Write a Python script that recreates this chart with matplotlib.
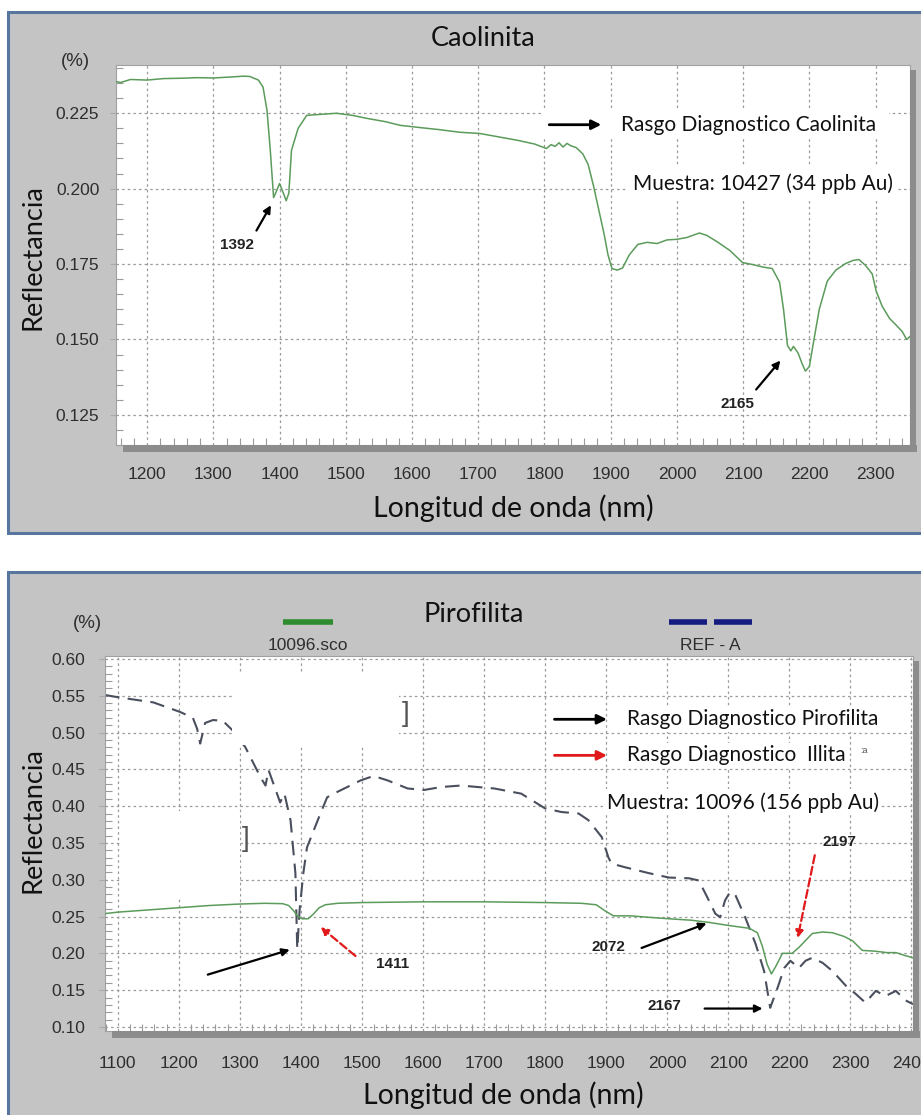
import matplotlib
matplotlib.use('Agg')
import matplotlib.pyplot as plt
from matplotlib.patches import Rectangle
from matplotlib.lines import Line2D
from matplotlib.ticker import MultipleLocator, FormatStrFormatter

# ---- data ----
caol_wl = [1153, 1160, 1175, 1200, 1225, 1250, 1275, 1300, 1325, 1345, 1355, 1368, 1375,
           1381, 1386, 1391, 1395, 1400, 1404, 1410, 1414, 1418, 1428, 1441, 1460, 1486,
           1510, 1532, 1560, 1582, 1610, 1640, 1672, 1702, 1730, 1760, 1785, 1803, 1810,
           1816, 1822, 1828, 1834, 1840, 1848, 1858, 1866, 1874, 1882, 1890, 1896, 1902,
           1910, 1918, 1928, 1941, 1955, 1970, 1985, 2000, 2015, 2034, 2045, 2060, 2080,
           2099, 2115, 2130, 2144, 2155, 2161, 2167, 2172, 2176, 2183, 2189, 2194, 2200,
           2207, 2215, 2227, 2240, 2255, 2266, 2275, 2285, 2295, 2301, 2310, 2321, 2330,
           2340, 2347, 2352]
caol_refl = [0.2355, 0.2352, 0.2362, 0.2360, 0.2365, 0.2366, 0.2368, 0.2367, 0.2370, 0.2373,
             0.2372, 0.2360, 0.2337, 0.2260, 0.2127, 0.1970, 0.1990, 0.2017, 0.1995, 0.1960,
             0.1985, 0.2127, 0.2200, 0.2243, 0.2246, 0.2250, 0.2243, 0.2233, 0.2222, 0.2210,
             0.2203, 0.2196, 0.2187, 0.2183, 0.2172, 0.2160, 0.2148, 0.2133, 0.2146, 0.2140,
             0.2152, 0.2138, 0.2150, 0.2142, 0.2136, 0.2115, 0.2080, 0.2010, 0.1930, 0.1850,
             0.1780, 0.1735, 0.1730, 0.1737, 0.1780, 0.1815, 0.1822, 0.1818, 0.1830, 0.1832,
             0.1838, 0.1853, 0.1845, 0.1825, 0.1795, 0.1755, 0.1748, 0.1740, 0.1735, 0.1690,
             0.1600, 0.1480, 0.1462, 0.1477, 0.1455, 0.1420, 0.1395, 0.1410, 0.1500, 0.1600,
             0.1693, 0.1730, 0.1752, 0.1762, 0.1765, 0.1745, 0.1717, 0.1660, 0.1610, 0.1570,
             0.1550, 0.1527, 0.1500, 0.1510]

piro_wl = [1079, 1100, 1150, 1200, 1250, 1300, 1340, 1370, 1380, 1388, 1395, 1402, 1412,
           1420, 1430, 1440, 1460, 1500, 1600, 1700, 1800, 1860, 1884, 1898, 1912, 1940,
           1970, 2003, 2040, 2069, 2100, 2135, 2148, 2156, 2164, 2171, 2178, 2189, 2205,
           2216, 2238, 2255, 2271, 2290, 2304, 2320, 2340, 2360, 2375, 2390, 2403]
piro_refl = [0.254, 0.256, 0.259, 0.262, 0.265, 0.267, 0.268, 0.2675, 0.265, 0.258, 0.250,
             0.247, 0.247, 0.253, 0.262, 0.266, 0.268, 0.269, 0.270, 0.270, 0.269, 0.268,
             0.266, 0.258, 0.251, 0.251, 0.249, 0.247, 0.245, 0.242, 0.238, 0.234, 0.228,
             0.210, 0.185, 0.172, 0.182, 0.200, 0.200, 0.208, 0.227, 0.229, 0.228, 0.223,
             0.217, 0.204, 0.203, 0.201, 0.201, 0.197, 0.194]

ref_wl = [1079, 1100, 1158, 1202, 1223, 1230, 1235, 1243, 1256, 1272, 1288, 1309, 1334,
          1342, 1347, 1366, 1373, 1383, 1391, 1394, 1398, 1404, 1410, 1421, 1432, 1443,
          1454, 1476, 1498, 1519, 1542, 1575, 1602, 1630, 1662, 1717, 1761, 1800, 1827,
          1855, 1871, 1893, 1904, 1909, 1931, 1970, 2003, 2036, 2052, 2066, 2079, 2087,
          2095, 2103, 2111, 2128, 2145, 2159, 2169, 2181, 2192, 2202, 2216, 2227, 2238,
          2255, 2271, 2293, 2309, 2325, 2342, 2358, 2375, 2391, 2403]
ref_refl = [0.551, 0.548, 0.541, 0.528, 0.520, 0.505, 0.485, 0.513, 0.517, 0.516, 0.503,
            0.480, 0.439, 0.428, 0.449, 0.405, 0.417, 0.381, 0.309, 0.206, 0.260, 0.309,
            0.344, 0.367, 0.390, 0.412, 0.417, 0.426, 0.435, 0.441, 0.435, 0.424, 0.422,
            0.426, 0.428, 0.424, 0.417, 0.397, 0.392, 0.390, 0.381, 0.358, 0.330, 0.322,
            0.317, 0.309, 0.303, 0.302, 0.299, 0.276, 0.254, 0.249, 0.272, 0.283, 0.281,
            0.249, 0.213, 0.176, 0.126, 0.153, 0.180, 0.190, 0.180, 0.190, 0.194, 0.187,
            0.176, 0.156, 0.145, 0.133, 0.149, 0.142, 0.149, 0.136, 0.131]

top_xticks = list(range(1200, 2301, 100))
top_yticks = [0.125, 0.150, 0.175, 0.200, 0.225]
bot_xticks = list(range(1100, 2401, 100))
bot_yticks = [0.10, 0.15, 0.20, 0.25, 0.30, 0.35, 0.40, 0.45, 0.50, 0.55, 0.60]

W, H = 921, 1115
fig = plt.figure(figsize=(W / 100, H / 100), dpi=100)
fig.patch.set_facecolor('white')

TICKFONT = 'Liberation Sans'
BIGFONT = 'Lato'
PANEL = '#c4c4c4'
BORDER = '#56759f'
GRID = '#9a9a9a'
SHADOW = '#8c8c8c'
NOTE = 15
LABEL = 20.5


def fx(px):
    return px / W


def fy(py):
    return 1 - py / H


def panel(y0, y1):
    fig.add_artist(Rectangle((fx(8), fy(y1)), fx(930 - 8), (y1 - y0) / H,
                             transform=fig.transFigure, facecolor=PANEL,
                             edgecolor=BORDER, linewidth=2.2, zorder=0))


def make_axes(l, t, r, b):
    ax = fig.add_axes([fx(l), fy(b), (r - l) / W, (b - t) / H])
    # drop shadow under/right of the plot box
    fig.add_artist(Rectangle((fx(l + 7), fy(b + 7)), (r - l) / W, 7 / H,
                             transform=fig.transFigure, facecolor=SHADOW,
                             edgecolor='none', zorder=0.5))
    fig.add_artist(Rectangle((fx(r), fy(b + 7)), 6 / W, (b - t + 2) / H,
                             transform=fig.transFigure, facecolor=SHADOW,
                             edgecolor='none', zorder=0.5))
    ax.set_facecolor('white')
    ax.set_axisbelow(True)
    ax.grid(True, which='major', color=GRID, linestyle=(0, (2, 2.5)), linewidth=0.9)
    for s in ax.spines.values():
        s.set_color('#a0a0a0')
        s.set_linewidth(0.8)
    ax.tick_params(which='major', length=4, color='#aaaaaa', labelsize=12.5,
                   labelcolor='#2e2e2e')
    ax.tick_params(which='minor', direction='in', length=5, color='#9a9a9a', width=0.8)
    ax.tick_params(which='both', top=False, right=False)
    return ax


def style_ticklabels(ax):
    for lab in ax.get_xticklabels() + ax.get_yticklabels():
        lab.set_fontfamily(TICKFONT)


# ================= top panel: Caolinita =================
panel(12, 533)
ax1 = make_axes(116, 65, 910, 445)
ax1.plot(caol_wl, caol_refl, color='#5b9b5b', linewidth=1.1, zorder=3)
ax1.set_xlim(1153, 2352)
ax1.set_ylim(0.115, 0.241)
ax1.set_xticks(top_xticks)
ax1.set_yticks(top_yticks)
ax1.yaxis.set_major_formatter(FormatStrFormatter('%.3f'))
ax1.xaxis.set_minor_locator(MultipleLocator(20))
ax1.yaxis.set_minor_locator(MultipleLocator(0.005))
ax1.tick_params(axis='x', pad=12)
ax1.tick_params(axis='y', pad=8)
style_ticklabels(ax1)

# white areas behind the legend notes
ax1.add_patch(Rectangle((1795, 0.2165), 2321 - 1795, 0.2262 - 0.2165,
                        facecolor='white', edgecolor='none', zorder=1))
ax1.add_patch(Rectangle((1924, 0.1958), 2331 - 1924, 0.2072 - 0.1958,
                        facecolor='white', edgecolor='none', zorder=1))
ax1.annotate('', xy=(1890, 0.2212), xytext=(1803, 0.2212),
             arrowprops=dict(arrowstyle='-|>', color='black', lw=2, mutation_scale=14))
ax1.text(1916, 0.2212, 'Rasgo Diagnostico Caolinita', fontsize=NOTE, family=BIGFONT,
         va='center', ha='left', color='#111111', zorder=4)
ax1.text(1933, 0.2017, 'Muestra: 10427 (34 ppb Au)', fontsize=NOTE, family=BIGFONT,
         va='center', ha='left', color='#111111', zorder=4)

ax1.annotate('', xy=(1389, 0.1953), xytext=(1363, 0.1853),
             arrowprops=dict(arrowstyle='-|>', color='black', lw=1.6, mutation_scale=11))
ax1.text(1336, 0.1812, '1392', fontsize=11, fontweight='bold', family=TICKFONT,
         ha='center', va='center', color='#222222')
ax1.annotate('', xy=(2159, 0.1437), xytext=(2117, 0.1327),
             arrowprops=dict(arrowstyle='-|>', color='black', lw=1.6, mutation_scale=11))
ax1.text(2091, 0.1285, '2165', fontsize=11, fontweight='bold', family=TICKFONT,
         ha='center', va='center', color='#222222')

fig.text(fx(483), fy(38), 'Caolinita', fontsize=19.5, family=BIGFONT,
         ha='center', va='center', color='#111111')
fig.text(fx(75), fy(62), '(%)', fontsize=13.5, family=TICKFONT,
         ha='center', va='center', color='#2e2e2e')
fig.text(fx(33), fy(257), 'Reflectancia', fontsize=19.5, family=BIGFONT, rotation=90,
         ha='center', va='center', color='#111111')
fig.text(fx(513), fy(508), 'Longitud de onda (nm)', fontsize=LABEL, family=BIGFONT,
         ha='center', va='center', color='#111111')

# ================= bottom panel: Pirofilita =================
panel(572, 1140)
ax2 = make_axes(105, 656, 913, 1031)
ax2.plot(piro_wl, piro_refl, color='#5b9b5b', linewidth=1.1, zorder=3)
ax2.plot(ref_wl, ref_refl, color='#4a4f5e', linewidth=1.5,
         linestyle=(0, (7, 4)), zorder=2)
ax2.set_xlim(1079, 2403)
ax2.set_ylim(0.0945, 0.604)
ax2.set_xticks(bot_xticks)
ax2.set_yticks(bot_yticks)
ax2.yaxis.set_major_formatter(FormatStrFormatter('%.2f'))
ax2.xaxis.set_minor_locator(MultipleLocator(20))
ax2.yaxis.set_minor_locator(MultipleLocator(0.01))
ax2.tick_params(axis='x', pad=14)
ax2.tick_params(axis='y', pad=10)
style_ticklabels(ax2)

# blank patches left over in the original picture
ax2.add_patch(Rectangle((1287, 0.483), 1560 - 1287, 0.581 - 0.483,
                        facecolor='white', edgecolor='none', zorder=2.5))
ax2.add_patch(Rectangle((1105, 0.276), 1300 - 1105, 0.394 - 0.276,
                        facecolor='white', edgecolor='none', zorder=1))
ax2.text(1572, 0.525, ']', fontsize=20, color='#555555', ha='center', va='center',
         family=TICKFONT, zorder=4)
ax2.text(1309, 0.356, ']', fontsize=20, color='#555555', ha='center', va='center',
         family=TICKFONT, zorder=4)

wb = dict(facecolor='white', edgecolor='none', pad=2)
ax2.annotate('', xy=(1906, 0.518), xytext=(1811, 0.518),
             arrowprops=dict(arrowstyle='-|>', color='black', lw=2, mutation_scale=14))
ax2.text(1934, 0.518, 'Rasgo Diagnostico Pirofilita', fontsize=NOTE, family=BIGFONT,
         va='center', ha='left', color='#111111', bbox=wb, zorder=4)
ax2.annotate('', xy=(1906, 0.469), xytext=(1811, 0.469),
             arrowprops=dict(arrowstyle='-|>', color='#e0191b', lw=2, mutation_scale=14))
ax2.text(1934, 0.469, 'Rasgo Diagnostico  Illita', fontsize=NOTE, family=BIGFONT,
         va='center', ha='left', color='#111111', bbox=wb, zorder=4)
ax2.text(2322, 0.476, ':a', fontsize=6.5, family=TICKFONT, ha='center', va='center',
         color='#555555')
ax2.text(1901, 0.405, 'Muestra: 10096 (156 ppb Au)', fontsize=NOTE, family=BIGFONT,
         va='center', ha='left', color='#111111', bbox=wb, zorder=4)

# feature arrows
ax2.annotate('', xy=(1386, 0.206), xytext=(1243, 0.170),
             arrowprops=dict(arrowstyle='-|>', color='black', lw=1.6, mutation_scale=11))
ax2.annotate('', xy=(1429, 0.238), xytext=(1493, 0.194),
             arrowprops=dict(arrowstyle='-|>', color='#e0191b', lw=1.6, linestyle='--',
                             mutation_scale=11))
ax2.text(1551, 0.186, '1411', fontsize=11, fontweight='bold', family=TICKFONT,
         ha='center', va='center', color='#222222')
ax2.annotate('', xy=(2069, 0.242), xytext=(1954, 0.206),
             arrowprops=dict(arrowstyle='-|>', color='black', lw=1.6, mutation_scale=11))
ax2.text(1904, 0.209, '2072', fontsize=11, fontweight='bold', family=TICKFONT,
         ha='center', va='center', color='#222222')
ax2.annotate('', xy=(2161, 0.125), xytext=(2057, 0.125),
             arrowprops=dict(arrowstyle='-|>', color='black', lw=1.6, mutation_scale=11))
ax2.text(1995, 0.129, '2167', fontsize=11, fontweight='bold', family=TICKFONT,
         ha='center', va='center', color='#222222')
ax2.annotate('', xy=(2213, 0.217), xytext=(2243, 0.337),
             arrowprops=dict(arrowstyle='-|>', color='#e0191b', lw=1.6, linestyle='--',
                             mutation_scale=11))
ax2.text(2283, 0.351, '2197', fontsize=11, fontweight='bold', family=TICKFONT,
         ha='center', va='center', color='#222222')

# header: title and series keys
fig.text(fx(474), fy(615), 'Pirofilita', fontsize=19.5, family=BIGFONT,
         ha='center', va='center', color='#111111')
fig.text(fx(87), fy(623), '(%)', fontsize=13.5, family=TICKFONT,
         ha='center', va='center', color='#2e2e2e')
fig.add_artist(Line2D([fx(283), fx(333)], [fy(622), fy(622)], transform=fig.transFigure,
                      color='#2e8b2e', linewidth=4, solid_capstyle='butt'))
fig.text(fx(308), fy(645), '10096.sco', fontsize=12.5, family=TICKFONT,
         ha='center', va='center', color='#2e2e2e')
fig.add_artist(Line2D([fx(669), fx(707)], [fy(622), fy(622)], transform=fig.transFigure,
                      color='#141c80', linewidth=4, solid_capstyle='butt'))
fig.add_artist(Line2D([fx(714), fx(752)], [fy(622), fy(622)], transform=fig.transFigure,
                      color='#141c80', linewidth=4, solid_capstyle='butt'))
fig.text(fx(710), fy(645), 'REF - A', fontsize=12.5, family=TICKFONT,
         ha='center', va='center', color='#2e2e2e')
fig.text(fx(33), fy(820), 'Reflectancia', fontsize=19.5, family=BIGFONT, rotation=90,
         ha='center', va='center', color='#111111')
fig.text(fx(503), fy(1095), 'Longitud de onda (nm)', fontsize=LABEL, family=BIGFONT,
         ha='center', va='center', color='#111111')

fig.savefig('out.png', dpi=100)
